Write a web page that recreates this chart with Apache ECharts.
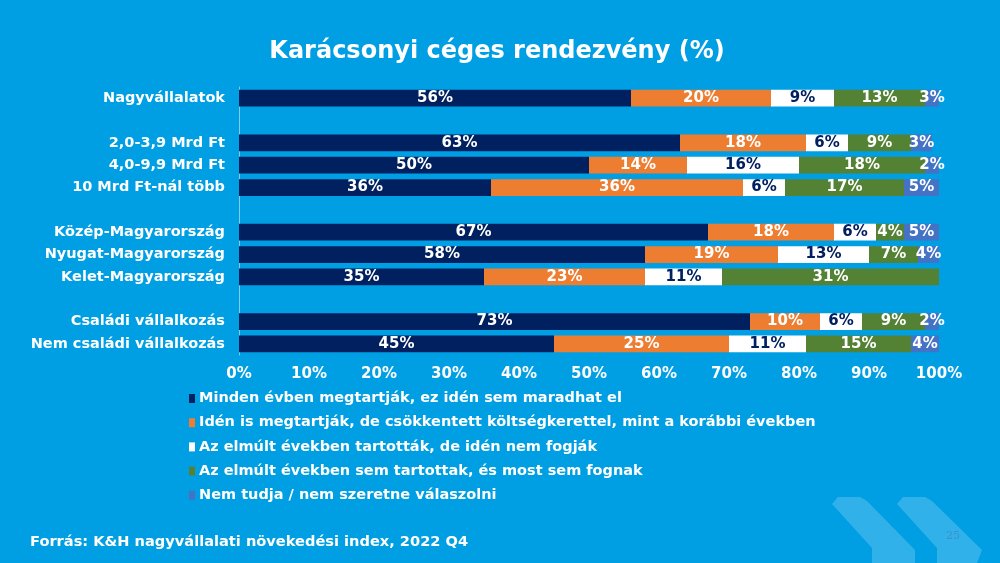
<!DOCTYPE html>
<html>
<head>
<meta charset="utf-8">
<script src="https://cdn.jsdelivr.net/npm/echarts@6/dist/echarts.min.js"></script>
<style>
  html, body { margin: 0; padding: 0; background: #009fe3; }
  #chart { width: 1000px; height: 563px; }
</style>
</head>
<body>
<div id="chart"></div>
<script>
// blank entries are the gaps between the groups
const categories = [
  "Nagyvállalatok", "",
  "2,0-3,9 Mrd Ft", "4,0-9,9 Mrd Ft", "10 Mrd Ft-nál több", "",
  "Közép-Magyarország", "Nyugat-Magyarország", "Kelet-Magyarország", "",
  "Családi vállalkozás", "Nem családi vállalkozás"
];
const seriesNames = [
  "Minden évben megtartják, ez idén sem maradhat el",
  "Idén is megtartják, de csökkentett költségkerettel, mint a korábbi években",
  "Az elmúlt években tartották, de idén nem fogják",
  "Az elmúlt években sem tartottak, és most sem fognak",
  "Nem tudja / nem szeretne válaszolni"
];
const holdEveryYear = [56, null, 63, 50, 36, null, 67, 58, 35, null, 73, 45];
const reducedBudget = [20, null, 18, 14, 36, null, 18, 19, 23, null, 10, 25];
const skipThisYear  = [9, null, 6, 16, 6, null, 6, 13, 11, null, 6, 11];
const neverHeld     = [13, null, 9, 18, 17, null, 4, 7, 31, null, 9, 15];
const noAnswer      = [3, null, 3, 2, 5, null, 5, 4, null, null, 2, 4];

const colors = ["#002060", "#ed7d31", "#ffffff", "#548235", "#4472c4"];
const labelColors = ["#fff", "#fff", "#002060", "#fff", "#fff"];
const font = "DejaVu Sans";

const chart = echarts.init(document.getElementById("chart"));

const series = [holdEveryYear, reducedBudget, skipThisYear, neverHeld, noAnswer].map((vals, i) => ({
  name: seriesNames[i],
  type: "bar",
  stack: "total",
  barCategoryGap: "25%",
  data: vals,
  itemStyle: { color: colors[i] },
  label: {
    show: true,
    position: "inside",
    color: labelColors[i],
    fontFamily: font,
    fontWeight: "bold",
    fontSize: 15,
    formatter: p => (p.value == null ? "" : p.value + "%")
  },
  animation: false
}));

chart.setOption({
  backgroundColor: "#009fe3",
  title: {
    text: "Karácsonyi céges rendezvény (%)",
    left: 492,
    textAlign: "center",
    top: 35,
    textStyle: { color: "#fff", fontFamily: font, fontWeight: "bold", fontSize: 24 }
  },
  grid: { left: 239, right: 61, top: 87, bottom: 208 },
  xAxis: {
    type: "value",
    min: 0,
    max: 100,
    interval: 10,
    axisLine: { show: false },
    axisTick: { show: false },
    splitLine: { show: false },
    axisLabel: {
      color: "#fff", fontFamily: font, fontWeight: "bold", fontSize: 15,
      margin: 12, formatter: "{value}%"
    }
  },
  yAxis: {
    type: "category",
    inverse: true,
    data: categories,
    axisLine: { show: true, lineStyle: { color: "#7fcdf0", width: 1 } },
    axisTick: { show: false },
    axisLabel: { color: "#fff", fontFamily: font, fontWeight: "bold", fontSize: 14.5, margin: 14 }
  },
  legend: {
    orient: "vertical",
    left: 184,
    top: 386,
    itemWidth: 6,
    itemHeight: 9,
    itemGap: 9.2,
    icon: "rect",
    data: seriesNames,
    textStyle: {
      color: "#fff", fontFamily: font, fontWeight: "bold", fontSize: 14.5,
      lineHeight: 15, padding: [0, 0, 0, -1]
    }
  },
  graphic: [
    {
      type: "polygon",
      silent: true,
      z: -1,
      shape: { points: [[832, 504], [838, 497], [860, 497], [867, 501], [915, 550], [915, 563], [872, 563], [872, 548]] },
      style: { fill: "#31b1ea" }
    },
    {
      type: "polygon",
      silent: true,
      z: -1,
      shape: { points: [[897, 504], [903, 497], [925, 497], [932, 501], [982, 550], [977, 563], [937, 563], [937, 548]] },
      style: { fill: "#31b1ea" }
    },
    {
      type: "text",
      left: 946,
      top: 531,
      style: { text: "25", fill: "#3a92c8", font: "11px 'DejaVu Serif'" }
    },
    {
      type: "text",
      left: 30,
      top: 535,
      style: { text: "Forrás: K&H nagyvállalati növekedési index, 2022 Q4", fill: "#fff", font: "bold 14.6px 'DejaVu Sans'" }
    }
  ],
  series: series
});
</script>
</body>
</html>
